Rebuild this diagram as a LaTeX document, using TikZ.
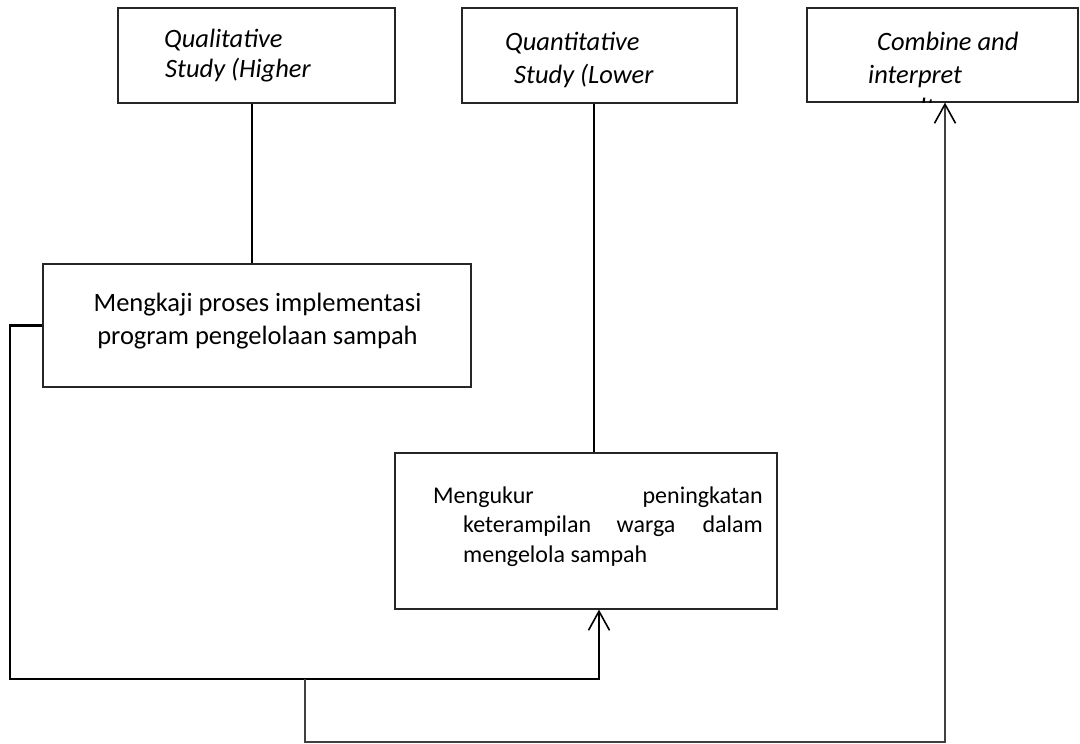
\documentclass[tikz,border=0pt]{standalone}
\usepackage{fontspec}
\setmainfont{Carlito}
\usetikzlibrary{arrows.meta}
\begin{document}
\begin{tikzpicture}[x=1pt,y=-1pt,
  boxnode/.style={draw=black!85,line width=1.2pt,rectangle,inner sep=0pt,fill=none},
  toptext/.style={inner sep=0pt,anchor=base west,font=\fontsize{26.5}{30}\selectfont\itshape},
  midtext/.style={inner sep=0pt,anchor=base,font=\fontsize{26.5}{30}\selectfont},
  lowtext/.style={inner sep=0pt,font=\fontsize{24}{28}\selectfont},
  link/.style={line width=1.5pt,black},
  thicklink/.style={line width=2.8pt,black},
  thinlink/.style={line width=1.4pt,black!75},
  tip/.style={-{Straight Barb[length=19pt,width=21pt,line width=1.6pt,color=black]}}
]
\fill[white] (0,0) rectangle (1080,744);
\useasboundingbox (0,0) rectangle (1080,744);

% boxes
\node[boxnode,minimum width=277pt,minimum height=95pt] (A) at (256.5,55.5) {};
\node[boxnode,minimum width=275pt,minimum height=95pt] (B) at (599.5,55.5) {};
\node[boxnode,minimum width=271pt,minimum height=94pt] (E) at (942.5,55) {};
\node[boxnode,minimum width=428pt,minimum height=123pt] (C) at (257,325.5) {};
\node[boxnode,minimum width=382pt,minimum height=156pt] (D) at (586,531) {};

% texts
\node[toptext] (a1) at (164,47) {Qualitative};
\node[toptext] (a2) at (165,77) {Study (Higher};
\node[toptext] (b1) at (505,50) {Quantitative};
\node[toptext] (b2) at (514,83) {Study (Lower};
\node[toptext] (e1) at (877,50) {Combine and};
\node[toptext] (e2) at (868,83) {interpret};
\begin{scope}
  \clip (E.north west) rectangle (E.south east);
  \node[toptext] (e3) at (874,116) {results};
\end{scope}

\node[midtext] (c1) at (257.5,311) {Mengkaji proses implementasi};
\node[midtext] (c2) at (257.5,344) {program pengelolaan sampah};

\node[lowtext,anchor=base west] (d1) at (433,503) {Mengukur};
\node[lowtext,anchor=base east] (d2) at (763,503) {peningkatan};
\node[lowtext,anchor=base west] (d3) at (463,532) {keterampilan};
\node[lowtext,anchor=base] (d4) at (646,532) {warga};
\node[lowtext,anchor=base east] (d5) at (763,532) {dalam};
\node[lowtext,anchor=base west] (d6) at (463,562) {mengelola sampah};

% connectors
\draw[link] ([xshift=-4.5pt]A.south) -- ([xshift=-4.5pt]A.south |- C.north);
\draw[link] ([xshift=-5.5pt]B.south) -- ([xshift=-5.5pt]B.south |- D.north);

\coordinate (lt) at (10,679);
\coordinate (jn) at (305,679);
\coordinate (bt) at (305,742);
\draw[thicklink,tip,line join=miter] (C.west) -| (lt) -| ([xshift=13pt]D.south);
\draw[thinlink,tip] (jn) -- (bt) -| ([xshift=2.5pt]E.south);
\end{tikzpicture}
\end{document}
